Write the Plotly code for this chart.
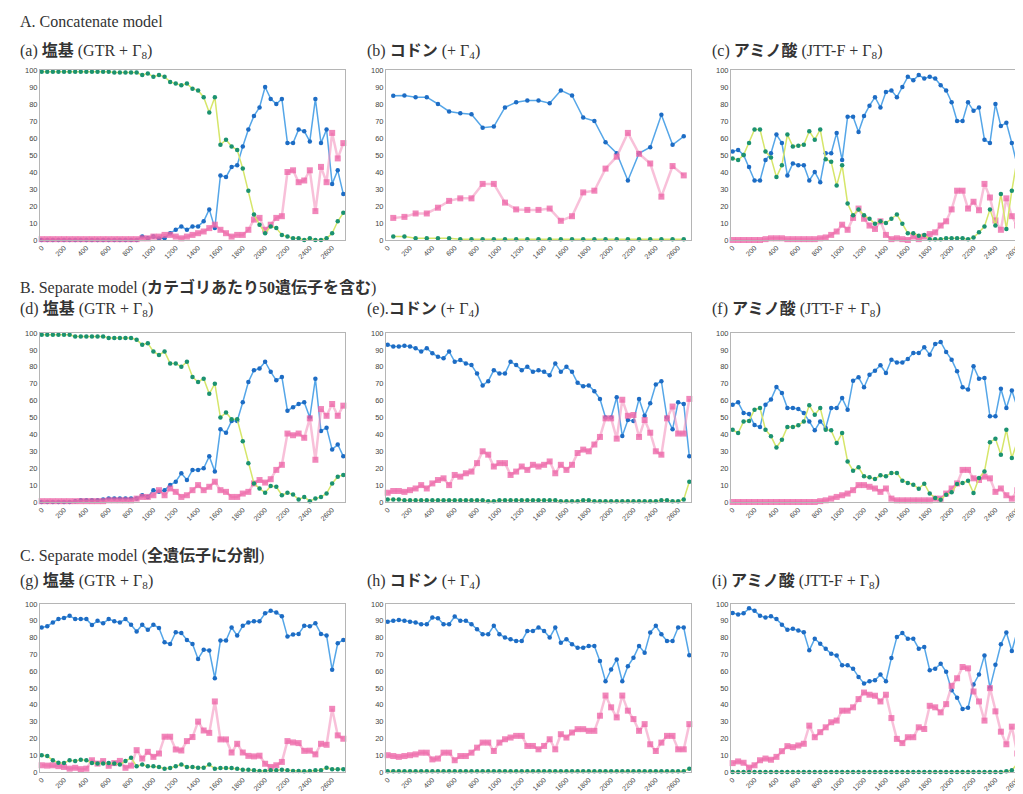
import plotly.graph_objects as go

# ---------------- data ----------------
x_dense = list(range(0, 2701, 50))      # 55 categories
x_sparse = list(range(50, 2651, 100))   # 27 categories (panel b)
x_tick_labels = ["0", "200", "400", "600", "800", "1000", "1200", "1400",
                 "1600", "1800", "2000", "2200", "2400", "2600"]
y_tick_labels = ["0", "10", "20", "30", "40", "50", "60", "70", "80", "90", "100"]

section_titles = ["A. Concatenate model",
                  "B. Separate model (<b>カテゴリあたり50遺伝子を含む</b>)",
                  "C. Separate model (<b>全遺伝子に分割</b>)"]
panel_titles = ["(a) <b>塩基</b> (GTR + Γ<sub>8</sub>)",
                "(b) <b>コドン</b> (+ Γ<sub>4</sub>)",
                "(c) <b>アミノ酸</b> (JTT-F + Γ<sub>8</sub>)",
                "(d) <b>塩基</b> (GTR + Γ<sub>8</sub>)",
                "(e).<b>コドン</b> (+ Γ<sub>4</sub>)",
                "(f) <b>アミノ酸</b> (JTT-F + Γ<sub>8</sub>)",
                "(g) <b>塩基</b> (GTR + Γ<sub>8</sub>)",
                "(h) <b>コドン</b> (+ Γ<sub>4</sub>)",
                "(i) <b>アミノ酸</b> (JTT-F + Γ<sub>8</sub>)"]

# (a)
a_blue = [0, 0, 0, 0, 0, 0, 0, 0, 0, 0, 0, 0, 0, 0, 0, 0, 0, 0, 2, 1,
          2, 1, 1, 4, 6, 8, 6, 8, 8, 11, 18, 7, 38, 37, 43, 44, 55, 65, 73, 78,
          90, 83, 80, 83, 57, 57, 65, 64, 58, 83, 57, 65, 33, 41, 27]
a_pink = [0.5, 0.5, 0.5, 0.5, 0.5, 0.5, 0.5, 0.5, 0.5, 0.5, 0.5, 0.5, 0.5, 0.5, 0.5, 0.5, 0.5, 0.5, 1, 1,
          2, 2, 3, 3, 2, 1, 2, 3, 4, 5, 7, 9, 6, 4, 2, 3, 3, 6, 12, 13,
          6, 9, 13, 14, 40, 41, 34, 35, 41, 17, 43, 34, 63, 48, 57]
a_green = [99, 99, 99, 99, 99, 99, 99, 99, 99, 99, 99, 99, 99, 98.5, 98.5, 98.5, 98.5, 98.5, 97, 98,
           96, 97, 96, 93, 92, 91, 92, 89, 88, 84, 75, 84, 56, 59, 55, 53, 42, 29, 15, 9,
           4, 8, 7, 3, 2, 1, 1, 0, 1, 0, 0, 1, 4, 11, 16]
# (b)
b_blue = [84.8, 85, 84, 84, 80, 75.6, 74.5, 74, 66, 66.7, 78, 81, 82, 82, 80.5, 88, 85, 72, 70, 57.5,
          51, 35, 51, 54.6, 73.7, 56, 61]
b_pink = [13, 13.6, 15.6, 15.6, 19, 23, 24.5, 24.5, 33, 33, 22, 18, 17.7, 17.7, 18.5, 11.3, 14, 28, 29, 42,
          49, 63, 50.7, 45, 25.5, 43.5, 38]
b_green = [2, 2, 1, 1, 1, 1, 0.5, 0.5, 0.5, 0.5, 0.5, 0.5, 0.5, 0.5, 0.5, 0.5, 0.5, 0.5, 0.5, 0.5,
           0.5, 0.5, 0.5, 0.5, 0.5, 0.5, 0.5]
# (c)
c_blue = [52, 53, 50, 43, 35, 35, 47, 51, 62, 57, 38, 45, 44, 44, 35, 40, 34, 51, 51, 63,
          47, 72.5, 72.5, 63.5, 73, 79, 84, 78, 87, 88, 84, 90, 96, 94, 97, 95, 96, 95, 91, 88,
          81, 70, 70, 81, 76, 78, 59, 57, 80, 67, 69, 57, 43.5, 46, 48]
c_pink = [0, 0, 0, 0, 0, 0, 0.5, 1, 1, 1, 0.5, 0.5, 0.5, 0.5, 0.5, 0.5, 1, 1.5, 3, 5,
          9, 6, 13, 18.5, 12.5, 8.5, 6.5, 11, 3, 0.5, 1, 0.5, 0, 2, 0.5, 2, 3.5, 4.5, 8.5, 11,
          18, 29, 29, 18.5, 22.5, 17.5, 33, 25, 11.5, 6, 24.5, 14, 8.5, 6, 4]
c_green = [48, 47, 50, 57, 65, 65, 52, 48.5, 37, 44, 62, 55, 55.5, 56, 64, 59, 65, 47.5, 46, 32,
           44, 21.5, 14.5, 18, 14.5, 12.5, 9.5, 11, 10, 12.5, 15, 9.5, 4, 4, 2.5, 3, 0.5, 0.5, 0.5, 1,
           1, 1, 1, 0.5, 1.5, 4.5, 8, 18, 8.5, 27, 6.5, 29, 48, 48, 48]
# (d)
d_blue = [0, 0, 0, 0, 0, 0, 0.5, 1, 1, 1, 1, 1.5, 2, 2, 2, 2, 2, 2, 4, 3,
          7, 6, 7, 10, 12, 17, 13, 19, 19, 20, 27, 18, 43, 41, 48, 48, 59, 71, 78, 79,
          83, 77, 72, 74, 54, 56, 58, 59, 50, 73, 42, 44, 31, 34, 27]
d_pink = [0.5, 0.5, 0.5, 0.5, 0.5, 0.5, 0.5, 0.5, 0.5, 0.5, 0.5, 0.5, 1, 1, 1, 1, 1, 2, 3, 3,
          4, 7, 4, 8, 6, 3, 4, 7, 10, 7, 9, 12, 7, 6, 3, 3, 5, 6, 11, 13,
          11.5, 13.5, 19, 22, 40.5, 39.5, 40.5, 38, 49.5, 25, 55, 51, 58, 51, 57]
d_green = [99, 99, 99, 99, 99, 99, 98, 98, 98, 98, 98, 98, 97, 97, 97, 97, 97, 96, 93, 94,
           89, 87, 89, 82, 82, 80, 83, 74, 71, 73, 64, 70, 50, 53, 49, 49, 36, 23, 11, 8,
           5.5, 9.5, 9, 4, 5.5, 4.5, 1.5, 3, 0.5, 2, 3, 5, 11, 15, 16]
# (e)
e_blue = [93, 92, 92, 92.5, 92, 91, 89, 91, 88, 86, 85, 89, 83, 84, 82, 81, 76, 69, 71.5, 78,
          76, 76, 83, 81, 78, 80, 77, 78, 77, 75, 82, 77, 80, 77, 70.5, 68.5, 69, 65.5, 61, 50,
          50, 62, 39, 48.5, 48, 61, 51, 58.5, 69.5, 71.5, 50, 43, 59, 58, 27]
e_pink = [5.5, 6.5, 6.5, 6, 7, 8, 10, 8, 11, 13, 14, 10, 16, 15, 17, 18, 23, 30, 28, 21,
          23, 23, 16, 18, 21, 19, 22, 21, 22, 24, 17, 22, 19, 22, 29, 31, 30, 34, 38.5, 49.5,
          49.5, 37.5, 60.5, 51, 51.5, 38.5, 48.5, 41, 30, 28, 49.5, 56.5, 40.5, 40.5, 61]
e_green = [1.5, 1.5, 1.5, 1, 1, 1, 1, 1, 1, 1, 1, 1, 1, 1, 1, 1, 1, 1, 0.5, 0.5,
           1, 1, 1, 1, 1, 1, 1, 1, 1, 1, 1, 0.5, 0.5, 0.5, 0.5, 1, 1, 0.5, 0.5, 0.5,
           0.5, 0.5, 0.5, 0.5, 0.5, 0.5, 0.5, 0.5, 0.5, 1, 1, 0.5, 0.5, 1.5, 12]
# (f)
f_blue = [57.6, 59, 52.7, 52, 45.5, 44.4, 57.6, 60.6, 68, 64.5, 55.6, 55.6, 55, 52.7, 47.7, 42.4, 47.7, 43.8, 55.6, 55.6,
          61.5, 54.6, 71.8, 73.8, 67.9, 75.3, 77.7, 80.9, 76.3, 84.2, 82.6, 82.6, 84.6, 88.2, 88.2, 91.5, 87.2, 93.5, 94.7, 88.8,
          84.2, 77.3, 67.9, 66.5, 80.3, 73, 73.4, 50.7, 50.7, 67, 55.6, 66, 56, 46, 47]
f_pink = [0, 0, 0, 0, 0, 0, 0, 0, 0, 0, 0, 0, 0, 0, 0, 0, 0.5, 1, 2, 3,
          4, 5, 7, 10, 10, 9, 8, 6, 8, 2, 1, 1, 1, 1, 1, 1, 1, 2, 2, 5,
          8, 11, 19, 19, 14, 13, 15, 14, 6, 8, 4, 2, 7, 6, 2]
f_green = [42.8, 40.8, 47.7, 48, 54.6, 55.6, 42.8, 38.9, 32.3, 36.9, 44.4, 44.4, 45.4, 47.7, 57.2, 51.7, 55.6, 42.8, 42.4, 34.9,
           40.8, 24, 18.5, 20.5, 15.2, 14.6, 13.6, 15.8, 15.2, 17.2, 17.2, 12.6, 11.2, 10.2, 7.9, 10.8, 5, 2.4, 1.4, 4.3,
           5.7, 10.6, 11.2, 12.6, 5.3, 14.2, 18.1, 35.3, 37.5, 28, 42.8, 26, 35.9, 48.7, 50.7]
# (g)
g_blue = [86, 86.7, 89, 91, 91.7, 93, 91, 91, 91, 87.5, 90, 88.5, 91, 89.7, 89, 91, 87.7, 83.6, 87.7, 84.6,
          87.7, 85.7, 77.2, 76.2, 83.2, 82.8, 78.6, 76.2, 67.3, 72.7, 72.3, 55.8, 78.2, 78.2, 86, 81.2, 87, 89, 89.7, 89.7,
          94.5, 96, 95, 92.7, 80.6, 81.8, 82.2, 87, 86.7, 88.5, 82.2, 81.2, 60.8, 76.6, 78.6]
g_pink = [4, 3.8, 4, 3.5, 3, 2, 2.5, 1.7, 2, 7, 5, 6.5, 3.7, 5.3, 6.6, 2.5, 3.8, 13, 8, 12,
          9, 11, 21, 21, 13.4, 12.8, 18.4, 20.8, 30, 24.7, 23.3, 42, 19.4, 19.4, 11.6, 16.8, 11.6, 9.6, 9.3, 9.7,
          4.9, 3, 4, 6, 18.4, 17.6, 17.2, 12.6, 12.7, 10.5, 16.8, 16.2, 37.6, 21.8, 19.8]
g_green = [10, 9.5, 7, 5.5, 5.3, 7, 6.5, 7.3, 7, 5.3, 5, 5, 5.3, 5, 4.4, 6.5, 8.5, 3.4, 4.4, 3.4,
           3.4, 3, 2, 2.4, 3.4, 4.4, 3, 3, 2.6, 2.6, 4.4, 2, 2.4, 2.4, 2.4, 2, 1.4, 1.4, 1, 0.6,
           0.6, 1, 1, 1.4, 1, 0.6, 0.6, 0.4, 0.6, 1, 1, 2.6, 1.6, 1.6, 1.6]
# (h)
h_blue = [89.5, 90, 90.5, 90, 89.5, 89, 88, 88, 92, 91.5, 88, 88, 92.5, 90, 90, 88, 85, 82, 82, 87,
          82, 80, 79, 78, 78, 84, 84, 86, 84, 80, 86, 77, 79, 76, 74, 74, 75, 75, 66, 54,
          61, 67, 54, 63, 68, 75, 71, 83, 87, 82, 78, 78, 86, 86, 69.5]
h_pink = [10, 9.5, 9, 9.5, 10, 10.5, 11.5, 11.5, 7.5, 8, 11.5, 11.5, 7, 9.5, 9.5, 11.5, 14.5, 17.5, 17.5, 12.5,
          17.5, 19.5, 20.5, 21.5, 21.5, 15.5, 15.5, 13.5, 15.5, 19.5, 13.5, 22.5, 20.5, 23.5, 25.5, 25.5, 24.5, 24.5, 33.5, 45.5,
          38.5, 32.5, 45.5, 36.5, 31.5, 24.5, 28.5, 16.5, 12.5, 17.5, 21.5, 21.5, 13.5, 13.5, 28.5]
h_green = [0.5, 0.5, 0.5, 0.5, 0.5, 0.5, 0.5, 0.5, 0.5, 0.5, 0.5, 0.5, 0.5, 0.5, 0.5, 0.5, 0.5, 0.5, 0.5, 0.5,
           0.5, 0.5, 0.5, 0.5, 0.5, 0.5, 0.5, 0.5, 0.5, 0.5, 0.5, 0.5, 0.5, 0.5, 0.5, 0.5, 0.5, 0.5, 0.5, 0.5,
           0.5, 0.5, 0.5, 0.5, 0.5, 0.5, 0.5, 0.5, 0.5, 0.5, 0.5, 0.5, 0.5, 0.5, 2]
# (i)
i_blue = [94.7, 93.7, 94.5, 97.4, 96, 93, 92, 92.7, 91, 87.6, 84.6, 85.2, 84.2, 83.2, 72.4, 79.3, 76.3, 73.4, 70.4, 69.4,
          63.5, 63.5, 61.5, 56.6, 52.7, 54, 54.6, 58, 54, 67.9, 80.3, 82.8, 79.3, 79.3, 73.4, 74.4, 60.6, 61.5, 64.5, 59.6,
          48.7, 44.2, 37.5, 38.3, 52.1, 58, 69.4, 50.1, 63.9, 76, 83, 72, 84, 68, 67]
i_pink = [5.3, 6.3, 5.5, 2.6, 4, 7, 8, 7.3, 9, 12.4, 15.4, 14.8, 15.8, 16.8, 27.6, 20.7, 23.7, 26.6, 29.6, 30.6,
          36.5, 36.5, 38.5, 43.4, 47.3, 46, 45.4, 42, 46, 32.1, 19.7, 17.2, 20.7, 20.7, 26.6, 25.6, 39.4, 38.5, 35.5, 40.4,
          51.3, 55.8, 62.5, 61.7, 47.9, 42, 30.6, 49.9, 36.1, 24, 16.5, 27, 11, 16, 5]
i_green = [0, 0, 0, 0, 0, 0, 0, 0, 0, 0, 0, 0, 0, 0, 0, 0, 0, 0, 0, 0,
           0, 0, 0, 0, 0, 0, 0, 0, 0, 0, 0, 0, 0, 0, 0, 0, 0, 0, 0, 0,
           0, 0, 0, 0, 0, 0, 0, 0, 0, 0, 0.5, 1, 5, 16, 28]

panels = [
    (x_dense, a_blue, a_pink, a_green),
    (x_sparse, b_blue, b_pink, b_green),
    (x_dense, c_blue, c_pink, c_green),
    (x_dense, d_blue, d_pink, d_green),
    (x_dense, e_blue, e_pink, e_green),
    (x_dense, f_blue, f_pink, f_green),
    (x_dense, g_blue, g_pink, g_green),
    (x_dense, h_blue, h_pink, h_green),
    (x_dense, i_blue, i_pink, i_green),
]

# ---------------- layout geometry (pixels) ----------------
W, H = 1023, 794
col_px = [(32, 337), (378, 683), (723, 1023)]
row_px = [(62, 232), (325, 494), (596, 764)]
section_y = [14, 280, 547]
panel_title_y = [43, 301, 573]
panel_title_x = [10, 357, 702]

serif = "Liberation Serif, Noto Sans CJK JP, serif"
sans = "Liberation Sans, Arial, sans-serif"

fig = go.Figure()
layout_axes = {}
for k, (xs, blue, pink, green) in enumerate(panels):
    r, c = divmod(k, 3)
    suffix = "" if k == 0 else str(k + 1)
    xa, ya = "x" + suffix, "y" + suffix
    fig.add_trace(go.Scatter(x=xs, y=blue, xaxis=xa, yaxis=ya, mode="lines+markers",
                             line=dict(color="#55a6e8", width=1.5),
                             marker=dict(color="#1d6cc4", size=4.5), cliponaxis=False,
                             showlegend=False))
    fig.add_trace(go.Scatter(x=xs, y=pink, xaxis=xa, yaxis=ya, mode="lines+markers",
                             line=dict(color="rgba(244,150,192,0.6)", width=2.5),
                             marker=dict(color="rgba(236,96,164,0.75)", size=6, symbol="square"),
                             cliponaxis=False, showlegend=False))
    fig.add_trace(go.Scatter(x=xs, y=green, xaxis=xa, yaxis=ya, mode="lines+markers",
                             line=dict(color="#d6e66a", width=1.5),
                             marker=dict(color="#1b9270", size=4.5), cliponaxis=False,
                             showlegend=False))
    x0, x1 = col_px[c]
    y0, y1 = row_px[r]
    xrange = [-15, 2715] if c < 2 else [-15, 2725]
    layout_axes["xaxis" + suffix] = dict(
        domain=[x0 / W, x1 / W], anchor=ya, range=xrange,
        tickvals=[int(t) for t in x_tick_labels], ticktext=x_tick_labels,
        tickangle=-45, tickfont=dict(family=sans, size=7, color="#444"),
        showline=True, mirror=True, linecolor="#b5b5b5", linewidth=1,
        showgrid=False, zeroline=False, ticks="", automargin=False)
    layout_axes["yaxis" + suffix] = dict(
        domain=[1 - y1 / H, 1 - y0 / H], anchor=xa, range=[0, 100],
        tickvals=[int(t) for t in y_tick_labels], ticktext=y_tick_labels,
        tickfont=dict(family=sans, size=7.5, color="#444"),
        showline=True, mirror=True, linecolor="#b5b5b5", linewidth=1,
        showgrid=False, zeroline=False, ticks="", automargin=False)

annotations = []
for r, t in enumerate(section_titles):
    annotations.append(dict(text=t, x=10 / W, y=1 - section_y[r] / H, xref="paper", yref="paper",
                            xanchor="left", yanchor="middle", showarrow=False,
                            font=dict(family=serif, size=16, color="#333")))
for k, t in enumerate(panel_titles):
    r, c = divmod(k, 3)
    annotations.append(dict(text=t, x=panel_title_x[c] / W, y=1 - panel_title_y[r] / H,
                            xref="paper", yref="paper", xanchor="left", yanchor="middle",
                            showarrow=False, font=dict(family=serif, size=16, color="#333")))

fig.update_layout(width=W, height=H, margin=dict(l=0, r=0, t=0, b=0),
                  paper_bgcolor="white", plot_bgcolor="white",
                  annotations=annotations, **layout_axes)

fig.write_html("out.html")
